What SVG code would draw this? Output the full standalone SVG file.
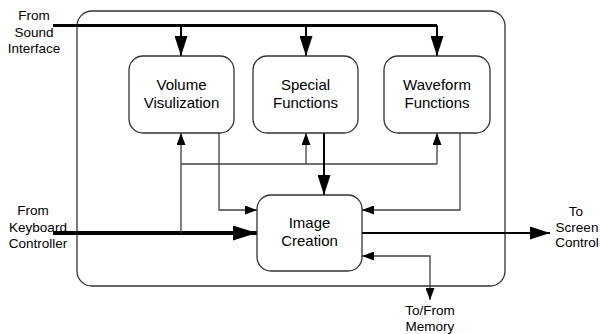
<svg xmlns="http://www.w3.org/2000/svg" width="600" height="334" viewBox="0 0 600 334">
  <style>
    .box { fill: #ffffff; stroke: #333333; stroke-width: 1.3; }
    .frame { fill: none; stroke: #333333; stroke-width: 1.3; }
    .lbl { font-family: "Liberation Sans", Arial, sans-serif; font-size: 13.5px; fill: #000000; text-anchor: middle; }
    .name { font-family: "Liberation Sans", Arial, sans-serif; font-size: 15px; fill: #000000; text-anchor: middle; }
    .thin { fill: none; stroke: #404040; stroke-width: 1.3; }
    .mid { fill: none; stroke: #000000; stroke-width: 2; }
    .thick { fill: none; stroke: #000000; stroke-width: 3; }
    .heavy { fill: none; stroke: #000000; stroke-width: 4; }
  </style>
  <defs>
    <marker id="big" markerUnits="userSpaceOnUse" viewBox="0 0 20 13" markerWidth="20" markerHeight="13" refX="20" refY="6.5" orient="auto">
      <path d="M0,0 L20,6.5 L0,13 z" fill="#000000"/>
    </marker>
    <marker id="huge" markerUnits="userSpaceOnUse" viewBox="0 0 24 15" markerWidth="24" markerHeight="15" refX="24" refY="7.5" orient="auto">
      <path d="M0,0 L24,7.5 L0,15 z" fill="#000000"/>
    </marker>
    <marker id="small" markerUnits="userSpaceOnUse" viewBox="0 0 12 9" markerWidth="12" markerHeight="9" refX="12" refY="4.5" orient="auto-start-reverse">
      <path d="M0,0 L12,4.5 L0,9 z" fill="#000000"/>
    </marker>
  </defs>

  <!-- enclosing subsystem frame -->
  <rect id="frame" class="frame" x="77" y="11" width="428" height="275" rx="15" ry="15"/>

  <!-- connectors -->
  <g id="connectors">
    <!-- sound interface bus -->
    <path class="thick" d="M53,25.5 H437"/>
    <path class="mid" d="M181,25.5 V56" marker-end="url(#big)"/>
    <path class="mid" d="M306,25.5 V56" marker-end="url(#big)"/>
    <path class="mid" d="M437,25.5 V56" marker-end="url(#big)"/>
    <!-- keyboard controller input -->
    <path class="heavy" d="M53,233 H257" marker-end="url(#huge)"/>
    <path class="thin" d="M181,233 V133" marker-end="url(#small)"/>
    <path class="thin" d="M181,164 H437"/>
    <path class="thin" d="M306,164 V133" marker-end="url(#small)"/>
    <path class="thin" d="M437,164 V133" marker-end="url(#small)"/>
    <!-- function blocks into image creation -->
    <path class="thin" d="M219,133 V210 H257" marker-end="url(#small)"/>
    <path class="mid" d="M324,133 V195" marker-end="url(#big)"/>
    <path class="thin" d="M460,133 V210 H362" marker-end="url(#small)"/>
    <!-- outputs -->
    <path class="mid" d="M362,233 H550" marker-end="url(#big)"/>
    <path class="thin" d="M362,256 H430 V300" marker-start="url(#small)" marker-end="url(#small)"/>
  </g>

  <!-- function blocks -->
  <g id="volume">
    <rect class="box" x="129" y="56" width="105" height="77" rx="14" ry="14"/>
    <text class="name" x="181.5" y="90">Volume</text>
    <text class="name" x="181.5" y="108">Visulization</text>
  </g>
  <g id="special">
    <rect class="box" x="253" y="56" width="105" height="77" rx="14" ry="14"/>
    <text class="name" x="305.5" y="90">Special</text>
    <text class="name" x="305.5" y="108">Functions</text>
  </g>
  <g id="waveform">
    <rect class="box" x="384" y="56" width="106" height="77" rx="14" ry="14"/>
    <text class="name" x="437" y="90">Waveform</text>
    <text class="name" x="437" y="108">Functions</text>
  </g>
  <g id="image">
    <rect class="box" x="257" y="195" width="105" height="76" rx="14" ry="14"/>
    <text class="name" x="309.5" y="228">Image</text>
    <text class="name" x="309.5" y="246">Creation</text>
  </g>

  <!-- external endpoints -->
  <g id="sound">
    <text class="lbl" x="34" y="20">From</text>
    <text class="lbl" x="34" y="36.5">Sound</text>
    <text class="lbl" x="34" y="53">Interface</text>
  </g>
  <g id="keyboard">
    <text class="lbl" x="33" y="215">From</text>
    <text class="lbl" x="38" y="231.5">Keyboard</text>
    <text class="lbl" x="38" y="248">Controller</text>
  </g>
  <g id="screen">
    <text class="lbl" x="576" y="216">To</text>
    <text class="lbl" x="577" y="232">Screen</text>
    <text class="lbl" x="577" y="247">Control</text>
  </g>
  <g id="memory">
    <text class="lbl" x="430" y="315">To/From</text>
    <text class="lbl" x="430" y="331">Memory</text>
  </g>
</svg>
